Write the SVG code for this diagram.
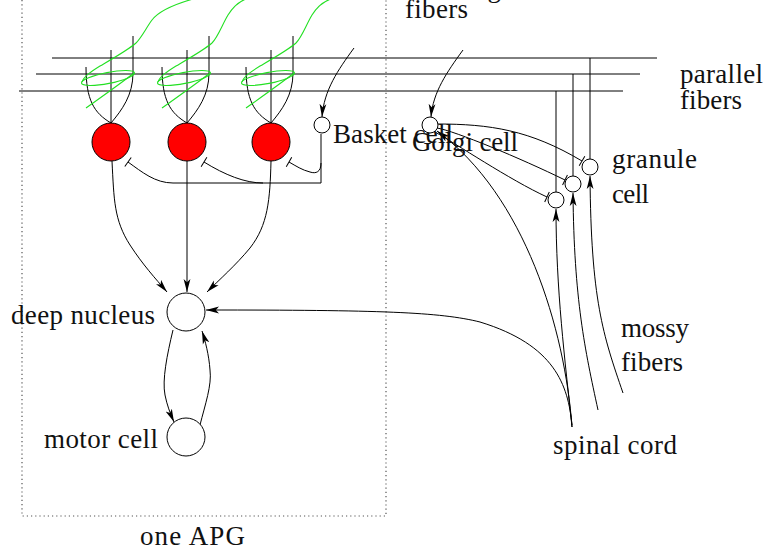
<svg xmlns="http://www.w3.org/2000/svg" width="765" height="550" viewBox="0 0 765 550" font-family="'Liberation Serif', 'DejaVu Serif', 'Noto Serif', 'Times New Roman', serif">
  <style>
    .ln { fill: none; stroke: #000; stroke-width: 1; }
    .cf { fill: none; stroke: #22e022; stroke-width: 1.1; }
    .cell { fill: #fff; stroke: #000; stroke-width: 1; }
    .pk { fill: #ff0000; stroke: #000; stroke-width: 1; }
    .frame { fill: none; stroke: #555; stroke-width: 1.2; stroke-dasharray: 1.2 3; }
    .lbl { font-family: "Liberation Serif", "DejaVu Serif", "Noto Serif", "Times New Roman", serif; font-size: 27px; fill: #111; }
  </style>
  <defs>
    <marker id="arr" viewBox="0 0 13 8" refX="13" refY="4" markerWidth="13" markerHeight="8" markerUnits="userSpaceOnUse" orient="auto">
      <path d="M0,0.6 L13,4 L0,7.4 L3.2,4 z" fill="#000"/>
    </marker>
    <marker id="bar" viewBox="-1 -6 2 12" refX="0" refY="0" markerWidth="2" markerHeight="12" markerUnits="userSpaceOnUse" orient="auto" overflow="visible">
      <line x1="0" y1="-5.5" x2="0" y2="5.5" stroke="#000" stroke-width="1"/>
    </marker>
    <!-- one climbing-fiber coil around a dendrite tree (tail drawn separately) -->
    <g id="coil">
      <path d="M86,108 C100,98 120,84 134,73"/>
      <ellipse cx="108" cy="78" rx="27" ry="5.5" transform="rotate(-11 108 78)"/>
      <path d="M82,82 C84,76 92,71 100,66 C112,59 128,50 136,43"/>
    </g>
  </defs>

  <!-- dotted outline of one APG -->
  <path class="frame" d="M22,0 V516 H386 V0"/>

  <!-- parallel fibers with their granule-cell ascending branches -->
  <g id="parallel-fibers" class="ln">
    <path d="M52,58 H657"/>
    <path d="M36,74 H640"/>
    <path d="M19,91 H623"/>
    <path d="M590,58 V159"/>
    <path d="M573,74 V176"/>
    <path d="M556,91 V192"/>
  </g>

  <!-- Purkinje dendrites -->
  <g id="dendrites" class="ln">
    <path d="M86,67 C86,100 94,113 111,123"/>
    <path d="M111,50 V123"/>
    <path d="M133,36 V73 C133,95 122,110 111,123"/>
    <path d="M162,67 C162,100 170,113 187,123"/>
    <path d="M187,50 V123"/>
    <path d="M209,36 V73 C209,95 198,110 187,123"/>
    <path d="M246,67 C246,100 254,113 271,123"/>
    <path d="M271,50 V123"/>
    <path d="M293,36 V73 C293,95 282,110 271,123"/>
  </g>

  <!-- climbing fibers wrapping the dendrites -->
  <g id="climbing-fibers" class="cf">
    <use href="#coil"/>
    <path d="M136,43 C142,37 146,28 152,20 C158,12 172,5 193,-1"/>
    <use href="#coil" transform="translate(76 0)"/>
    <path d="M212,43 C218,37 222,25 228,15 C233,7 238,2 246,-1"/>
    <use href="#coil" transform="translate(160 0)"/>
    <path d="M296,43 C302,37 306,25 312,15 C317,7 322,2 331,-1"/>
  </g>

  <!-- connectors -->
  <g id="connectors" class="ln">
    <!-- climbing fiber input to basket and Golgi cells -->
    <path d="M354,48 C338,70 324,90 322,117" marker-end="url(#arr)"/>
    <path d="M463,50 C447,72 433,92 431,117" marker-end="url(#arr)"/>
    <!-- basket cell inhibition of Purkinje cells -->
    <path d="M321,134 V183 H173 C155,183 142,172 128,162" marker-end="url(#bar)"/>
    <path d="M263,183 C245,183 225,175 204,162" marker-end="url(#bar)"/>
    <path d="M321,163 C321,172 316,174 310,172 C302,170 296,166 289,162" marker-end="url(#bar)"/>
    <!-- Purkinje output to the deep nucleus -->
    <path d="M112,161 C114,200 114,220 130,245 C143,265 155,278 167,292" marker-end="url(#arr)"/>
    <path d="M187,161 V292" marker-end="url(#arr)"/>
    <path d="M271,161 C270,200 268,225 250,248 C236,265 219,280 207,292" marker-end="url(#arr)"/>
    <!-- deep nucleus / motor cell loop -->
    <path d="M173,330 C167,355 162,380 165,395 C167,405 170,413 174,422" marker-end="url(#arr)"/>
    <path d="M200,425 C205,405 212,385 210,370 C209,355 205,340 202,331" marker-end="url(#arr)"/>
    <!-- spinal cord projections -->
    <path d="M572,425 C568,385 555,345 480,322 C440,312 380,310 206,310" marker-end="url(#arr)"/>
    <path d="M572,427 C565,330 525,195 437,131" marker-end="url(#arr)"/>
    <!-- mossy fibers to granule cells -->
    <path d="M572,427 C565,360 556,290 556,209" marker-end="url(#arr)"/>
    <path d="M598,410 C585,350 574,300 573,193" marker-end="url(#arr)"/>
    <path d="M623,393 C603,335 591,300 590,176" marker-end="url(#arr)"/>
    <!-- Golgi cell inhibition of granule cells -->
    <path d="M437,124 C490,124 530,130 582,161" marker-end="url(#bar)"/>
    <path d="M437,128 C455,131 520,158 565,180" marker-end="url(#bar)"/>
    <path d="M435,132 C455,143 510,180 547,197" marker-end="url(#bar)"/>
  </g>

  <g id="purkinje-1"><circle class="pk" cx="111" cy="142" r="19"/></g>
  <g id="purkinje-2"><circle class="pk" cx="187" cy="142" r="19"/></g>
  <g id="purkinje-3"><circle class="pk" cx="271" cy="142" r="19"/></g>

  <g id="basket-cell">
    <circle class="cell" cx="322" cy="125" r="8"/>
    <text class="lbl" x="333" y="143" textLength="120">Basket cell</text>
  </g>
  <g id="golgi-cell">
    <circle class="cell" cx="430" cy="125" r="8"/>
    <text class="lbl" x="412" y="151" textLength="106">Golgi cell</text>
  </g>
  <g id="granule-1"><circle class="cell" cx="556" cy="200" r="8"/></g>
  <g id="granule-2"><circle class="cell" cx="573" cy="184" r="8"/></g>
  <g id="granule-3"><circle class="cell" cx="590" cy="167" r="8"/></g>
  <g id="granule-label">
    <text class="lbl" x="612" y="168" textLength="85">granule</text>
    <text class="lbl" x="612" y="203" textLength="37">cell</text>
  </g>

  <g id="deep-nucleus">
    <circle class="cell" cx="186" cy="312" r="19"/>
    <text class="lbl" x="11" y="324" textLength="144">deep nucleus</text>
  </g>
  <g id="motor-cell">
    <circle class="cell" cx="186" cy="437" r="19"/>
    <text class="lbl" x="44" y="448" textLength="114">motor cell</text>
  </g>

  <g id="spinal-cord"><text class="lbl" x="553" y="454" textLength="124">spinal cord</text></g>
  <g id="labels">
    <text class="lbl" x="405" y="-3">climbing</text>
    <text class="lbl" x="405" y="18" textLength="63">fibers</text>
    <text class="lbl" x="680" y="83" textLength="83">parallel</text>
    <text class="lbl" x="680" y="109" textLength="62">fibers</text>
    <text class="lbl" x="621" y="337" textLength="68">mossy</text>
    <text class="lbl" x="621" y="371" textLength="62">fibers</text>
    <text class="lbl" x="140" y="545" textLength="105">one APG</text>
  </g>
</svg>
